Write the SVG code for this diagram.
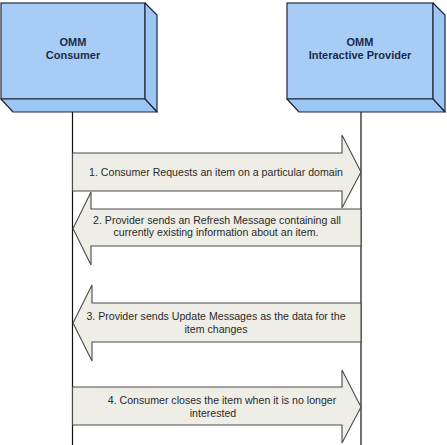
<svg xmlns="http://www.w3.org/2000/svg" width="447" height="445" viewBox="0 0 447 445">
<style>
.front{fill:#a7cdf6;stroke:#1e2a3a;stroke-width:1.2}
.side{fill:#9cc6f3;stroke:#1e2a3a;stroke-width:1.2;stroke-linejoin:round}
.title{font-family:"Liberation Sans",Arial,sans-serif;font-size:11px;font-weight:bold;fill:#1c2b4a;text-anchor:middle}
.life{stroke:#111;stroke-width:1.2;fill:none}
.arrow{fill:#eeeee6;stroke:#4a4a4a;stroke-width:1.1;stroke-linejoin:miter}
.lbl{font-family:"Liberation Sans",Arial,sans-serif;font-size:10.6px;fill:#2a2a2a;text-anchor:middle}
</style>
<rect width="447" height="445" fill="#ffffff"/>
<g id="lifelines">
<line class="life" x1="72.5" y1="99" x2="72.5" y2="445"/>
<line class="life" x1="361" y1="99" x2="361" y2="445"/>
</g>
<g id="consumer">
<rect class="front" x="1" y="3" width="144" height="96"/>
<polygon class="side" points="145,3 157,15 157,112 145,99"/>
<polygon class="side" points="1,99 145,99 157,112 13,112"/>
<text class="title" x="73" y="46">OMM</text>
<text class="title" x="73" y="59">Consumer</text>
</g>
<g id="provider">
<rect class="front" x="287" y="3" width="146" height="96"/>
<polygon class="side" points="433,3 445,15 445,112 433,99"/>
<polygon class="side" points="287,99 433,99 445,112 299,112"/>
<text class="title" x="360" y="46">OMM</text>
<text class="title" x="360" y="59">Interactive Provider</text>
</g>
<g id="connectors">
<g id="msg1">
<path class="arrow" d="M72.5,153 H342 V135 L361,172 L342,208 V191 H72.5 Z"/>
<text class="lbl" x="216" y="175.5">1. Consumer Requests an item on a particular domain</text>
</g>
<g id="msg2">
<path class="arrow" d="M361,209 H91 V192 L73,228.5 L91,265 V246 H361 Z"/>
<text class="lbl" x="217" y="223.5">2. Provider sends an Refresh Message containing all</text>
<text class="lbl" x="216" y="235.5">currently existing information about an item.</text>
</g>
<g id="msg3">
<path class="arrow" d="M361,303 H92 V285 L73,323 L92,361 V342 H361 Z"/>
<text class="lbl" x="216" y="319.5">3. Provider sends Update Messages as the data for the</text>
<text class="lbl" x="216" y="332.5">item changes</text>
</g>
<g id="msg4">
<path class="arrow" d="M72.5,387 H342 V370 L361,407 L342,443 V425 H72.5 Z"/>
<text class="lbl" x="222" y="403.5">4. Consumer closes the item when it is no longer</text>
<text class="lbl" x="213" y="416.5">interested</text>
</g>
</g>
</svg>
